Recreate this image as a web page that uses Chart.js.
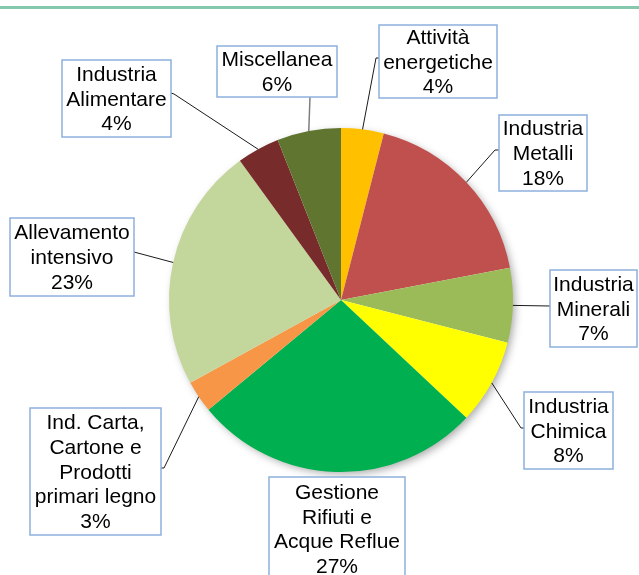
<!DOCTYPE html>
<html>
<head>
<meta charset="utf-8">
<script src="https://cdn.jsdelivr.net/npm/chart.js@4.4.0/dist/chart.umd.min.js"></script>
<style>
  html, body { margin: 0; padding: 0; background: #fff; }
  #wrap { width: 639px; height: 575px; position: relative; }
</style>
</head>
<body>
<div id="wrap"><canvas id="pieChart"></canvas></div>
<script>
// dati
const categories = [
    ['Attività', 'energetiche'],
    ['Industria', 'Metalli'],
    ['Industria', 'Minerali'],
    ['Industria', 'Chimica'],
    ['Gestione', 'Rifiuti e', 'Acque Reflue'],
    ['Ind. Carta,', 'Cartone e', 'Prodotti', 'primari legno'],
    ['Allevamento', 'intensivo'],
    ['Industria', 'Alimentare'],
    ['Miscellanea']
];
const values = [4, 18, 7, 8, 27, 3, 23, 4, 6];
const colors = ['#FFC000', '#C0504D', '#9BBB59', '#FFFF00', '#00B050', '#F79646', '#C3D69B', '#772B2A', '#5F7530'];

// posizione delle etichette (box) e punti di partenza delle linee guida
const boxes = [
    { x: 379, y: 25, w: 118, h: 73, lead: [[379, 58], [376, 58]] },
    { x: 499, y: 115, w: 88, h: 76, lead: [[499, 150], [495, 150]] },
    { x: 550, y: 270, w: 87, h: 77, lead: [[550, 306]] },
    { x: 524, y: 392, w: 89, h: 77, lead: [[524, 428], [521, 428]] },
    { x: 269, y: 477, w: 136, h: 104, lead: null },
    { x: 30, y: 408, w: 131, h: 127, lead: [[161, 468], [164, 468]] },
    { x: 10, y: 218, w: 124, h: 78, lead: [[134, 252]] },
    { x: 62, y: 60, w: 109, h: 77, lead: [[171, 93], [174, 94]] },
    { x: 217, y: 46, w: 120, h: 51, lead: [[310, 97]] }
];

const labelPlugin = {
    id: 'boxLabels',
    beforeDraw(chart) {
        const ctx = chart.ctx;
        ctx.save();
        ctx.fillStyle = '#86C8AE';
        ctx.fillRect(0, 6, chart.width, 3);
        ctx.restore();
    },
    beforeDatasetsDraw(chart) {
        // ombra della torta
        const arc = chart.getDatasetMeta(0).data[0];
        if (!arc) return;
        const ctx = chart.ctx;
        ctx.save();
        ctx.shadowColor = 'rgba(0,0,0,0.35)';
        ctx.shadowBlur = 9;
        ctx.shadowOffsetX = 3;
        ctx.shadowOffsetY = 3;
        ctx.fillStyle = '#ffffff';
        ctx.beginPath();
        ctx.arc(arc.x, arc.y, arc.outerRadius - 1, 0, Math.PI * 2);
        ctx.fill();
        ctx.restore();
    },
    afterDatasetsDraw(chart) {
        const ctx = chart.ctx;
        const meta = chart.getDatasetMeta(0);
        const lh = 24.8;
        ctx.save();
        meta.data.forEach((arc, i) => {
            const b = boxes[i];
            // linea guida
            if (b.lead) {
                const mid = (arc.startAngle + arc.endAngle) / 2;
                const px = arc.x + Math.cos(mid) * arc.outerRadius;
                const py = arc.y + Math.sin(mid) * arc.outerRadius;
                ctx.strokeStyle = i === 8 ? '#7f7f7f' : '#1a1a1a';
                ctx.lineWidth = i === 8 ? 1.5 : 1;
                ctx.beginPath();
                ctx.moveTo(b.lead[0][0], b.lead[0][1]);
                for (let k = 1; k < b.lead.length; k++) ctx.lineTo(b.lead[k][0], b.lead[k][1]);
                ctx.lineTo(px, py);
                ctx.stroke();
            }
            // box
            ctx.fillStyle = '#ffffff';
            ctx.fillRect(b.x, b.y, b.w, b.h);
            ctx.strokeStyle = '#8DB0DC';
            ctx.lineWidth = 1.5;
            ctx.strokeRect(b.x, b.y, b.w, b.h + (i === 4 ? 20 : 0));
            // testo
            const lines = categories[i].concat([values[i] + '%']);
            ctx.fillStyle = '#000000';
            ctx.font = '21px "Liberation Sans", Arial, sans-serif';
            ctx.textAlign = 'center';
            ctx.textBaseline = 'alphabetic';
            const cx = b.x + b.w / 2;
            const cy = b.y + b.h / 2;
            lines.forEach((t, k) => {
                ctx.fillText(t, cx, cy + (k - (lines.length - 1) / 2) * lh + 7);
            });
        });
        ctx.restore();
    }
};

new Chart(document.getElementById('pieChart'), {
    type: 'pie',
    data: {
        labels: categories,
        datasets: [{
            data: values,
            backgroundColor: colors,
            borderWidth: 0
        }]
    },
    options: {
        responsive: true,
        maintainAspectRatio: false,
        animation: false,
        layout: { padding: { left: 169, right: 126, top: 128, bottom: 103 } },
        plugins: {
            legend: { display: false },
            tooltip: { enabled: false }
        }
    },
    plugins: [labelPlugin]
});
</script>
</body>
</html>
